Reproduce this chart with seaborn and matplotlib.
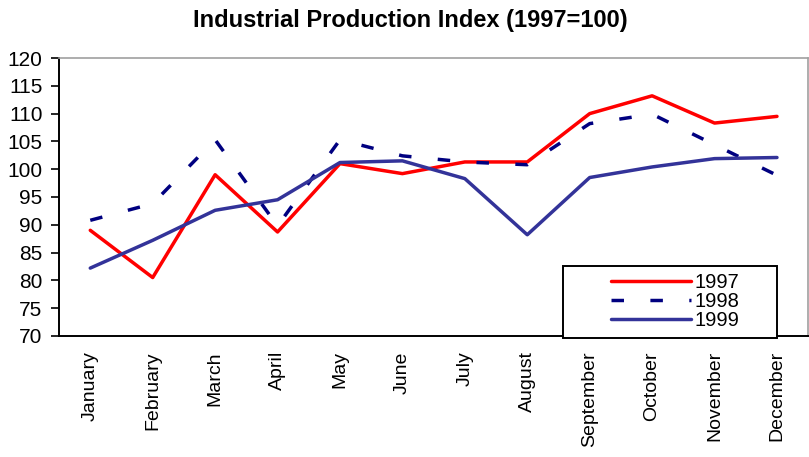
import matplotlib
matplotlib.use("Agg")
import matplotlib.pyplot as plt
import matplotlib.patches as mpatches
import pandas as pd
import seaborn as sns

months = ["January", "February", "March", "April", "May", "June", "July",
          "August", "September", "October", "November", "December"]
years = ["1997", "1998", "1999"]
v1997 = [89.0, 80.5, 99.0, 88.7, 101.0, 99.2, 101.3, 101.3, 110.0, 113.2, 108.3, 109.5]
v1998 = [90.8, 93.8, 105.3, 89.8, 105.3, 102.4, 101.3, 100.8, 108.2, 109.9, 104.4, 98.9]
v1999 = [82.2, 87.2, 92.6, 94.5, 101.2, 101.5, 98.3, 88.2, 98.5, 100.4, 101.9, 102.1]

df = pd.DataFrame({
    "month": months * 3,
    "value": v1997 + v1998 + v1999,
    "year": [y for y in years for _ in months],
})

sns.set_style("white")
plt.rcParams["font.family"] = ["Liberation Sans", "DejaVu Sans"]
plt.rcParams["text.color"] = "black"
plt.rcParams["xtick.labelcolor"] = "black"
plt.rcParams["ytick.labelcolor"] = "black"

fig = plt.figure(figsize=(8.09, 4.57), dpi=100)
ax = fig.add_axes([0.073, 0.265, 0.926, 0.608])

palette = {"1997": "#ff0000", "1998": "#000080", "1999": "#333399"}
dashes = {"1997": "", "1998": (3.6, 7.6), "1999": ""}
sns.lineplot(data=df, x="month", y="value", hue="year", style="year",
             palette=palette, dashes=dashes, sort=False, linewidth=2.5,
             ax=ax, legend=False)

ax.set_xlim(-0.5, 11.5)
ax.set_ylim(70, 120)
ax.set_yticks(range(70, 121, 5))
ax.set_xticks(range(12))
ax.set_xticklabels(months, rotation=90, fontsize=14)
ax.set_xticks([i - 0.5 for i in range(13)], minor=True)
ax.tick_params(axis="x", which="major", length=0, pad=11, labelcolor="black")
ax.tick_params(axis="x", which="minor", length=6, width=1.2, direction="out", color="black")
ax.tick_params(axis="y", length=6, width=1.2, direction="out", color="black",
               labelsize=15, pad=6, left=True, labelcolor="black")
ax.set_xlabel("")
ax.set_ylabel("")

for side in ["left", "bottom"]:
    ax.spines[side].set_color("black")
    ax.spines[side].set_linewidth(1.4)
for side in ["top", "right"]:
    ax.spines[side].set_color("#a0a0a0")
    ax.spines[side].set_linewidth(1.2)

fig.text(410 / 809, 1 - 20 / 457, "Industrial Production Index (1997=100)",
         fontsize=17, fontweight="bold", ha="center", va="center", color="black")

# legend box
box = mpatches.Rectangle((0.673, -0.007), 0.286, 0.259, transform=ax.transAxes,
                         fill=True, facecolor="white", edgecolor="black", linewidth=1.4,
                         zorder=5, clip_on=False)
ax.add_patch(box)
handles = [plt.Line2D([], [], color=palette[y], linewidth=2.5,
                      linestyle=(0, dashes[y]) if dashes[y] else "-") for y in years]
leg = ax.legend(handles, years, loc="center", bbox_to_anchor=(0.822, 0.122),
                frameon=False, fontsize=14.5, handlelength=4.0, handletextpad=0.15,
                labelspacing=0.0, borderpad=0)
leg.set_zorder(6)
for t in leg.get_texts():
    t.set_color("black")

fig.savefig("out.png", dpi=100)
